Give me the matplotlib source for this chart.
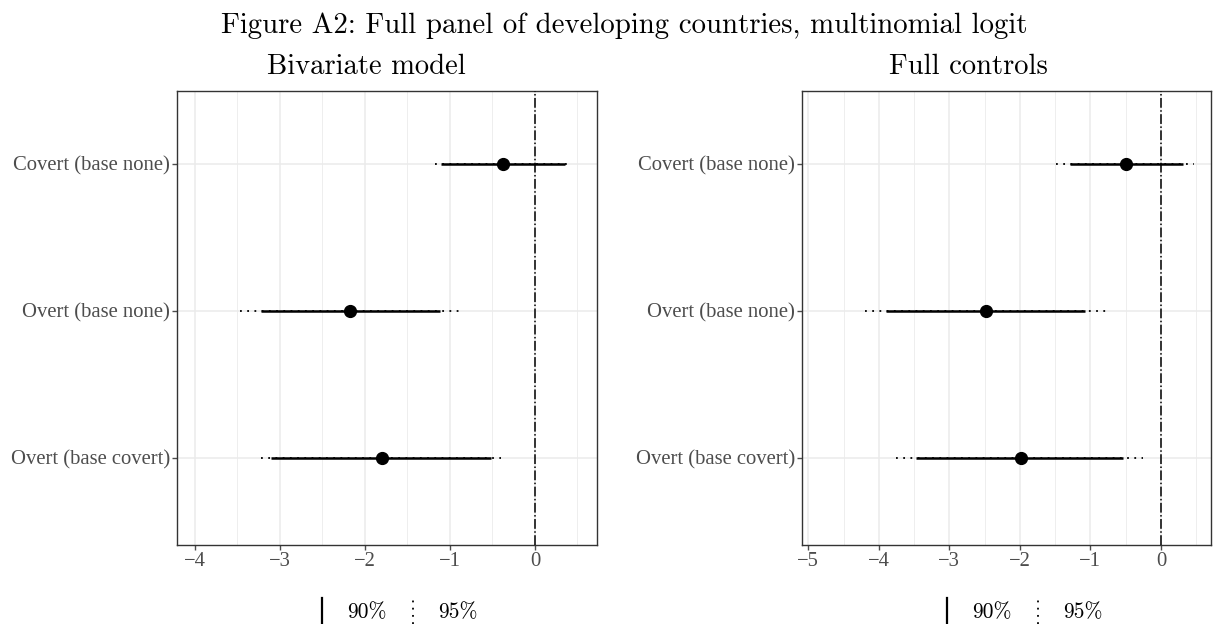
import matplotlib
matplotlib.use("Agg")
import matplotlib.pyplot as plt
from matplotlib.lines import Line2D
from matplotlib.ticker import MultipleLocator

plt.rcParams['font.family'] = ['Liberation Serif', 'DejaVu Serif']

labels = ['Covert (base none)', 'Overt (base none)', 'Overt (base covert)']

# Bivariate model
biv_est = [-0.37, -2.18, -1.80]
biv_lo90 = [-1.10, -3.22, -3.10]
biv_hi90 = [0.35, -1.12, -0.52]
biv_lo95 = [-1.17, -3.47, -3.22]
biv_hi95 = [0.44, -0.87, -0.40]

# Full controls
full_est = [-0.49, -2.48, -1.99]
full_lo90 = [-1.29, -3.90, -3.47]
full_hi90 = [0.31, -1.07, -0.54]
full_lo95 = [-1.49, -4.19, -3.76]
full_hi95 = [0.47, -0.78, -0.26]

panels = [
    ('Bivariate model', biv_est, biv_lo90, biv_hi90, biv_lo95, biv_hi95, (-4.21, 0.73)),
    ('Full controls', full_est, full_lo90, full_hi90, full_lo95, full_hi95, (-5.09, 0.71)),
]

W, H = 1215, 624
fig = plt.figure(figsize=(W / 100, H / 100), dpi=100)
axes_pos = [[177 / W, 1 - 545 / H, 420 / W, 454 / H],
            [802 / W, 1 - 545 / H, 409 / W, 454 / H]]
title_x = [366, 968]

fig.text(624 / W, 1 - 33 / H,
         'Figure A2: Full panel of developing countries, multinomial logit',
         family='cmr10', fontsize=20.8, ha='center', va='baseline')

grey = '#4d4d4d'
for pos, tx, (title, est, lo90, hi90, lo95, hi95, xlim) in zip(axes_pos, title_x, panels):
    ax = fig.add_axes(pos)
    y = [1, 2, 3]
    ax.hlines(y, lo95, hi95, color='black', linestyle=(0, (1, 3)), linewidth=1.3, zorder=2)
    ax.hlines(y, lo90, hi90, color='black', linestyle='-', linewidth=1.8, zorder=3)
    ax.plot(est, y, 'o', color='black', markersize=8.5, zorder=4)
    ax.axvline(0, color='black', linestyle='-.', linewidth=1.1, zorder=3)
    ax.set_xlim(*xlim)
    ax.set_ylim(3.594, 0.505)
    ax.set_yticks(y)
    ax.set_yticklabels(labels)
    ax.xaxis.set_major_locator(MultipleLocator(1))
    ax.xaxis.set_minor_locator(MultipleLocator(0.5))
    ax.grid(True, which='major', color='#ebebeb', linewidth=1.1, zorder=0)
    ax.grid(True, which='minor', axis='x', color='#ebebeb', linewidth=0.6, zorder=0)
    ax.set_axisbelow(True)
    ax.tick_params(axis='both', colors=grey, labelsize=14.9, length=3.5, width=1.0, pad=1.5)
    ax.tick_params(which='minor', length=0)
    for s in ax.spines.values():
        s.set_color('#333333')
        s.set_linewidth(1.0)
    fig.text(tx / W, 1 - 74.5 / H, title, family='cmr10', fontsize=20.6,
             ha='center', va='baseline')

# legends below each panel
for cx in [322, 947]:
    ytop = 1 - 598 / H
    ybot = 0.0
    fig.add_artist(Line2D([cx / W, cx / W], [ybot, ytop], color='black', linewidth=1.6))
    fig.text((cx + 45) / W, 1 - 618 / H, '90%', family='cmr10', fontsize=15.5,
             ha='center', va='baseline')
    fig.add_artist(Line2D([(cx + 91) / W, (cx + 91) / W], [ybot, ytop], color='black',
                          linewidth=1.3, linestyle=(0, (1, 3))))
    fig.text((cx + 136) / W, 1 - 618 / H, '95%', family='cmr10', fontsize=15.5,
             ha='center', va='baseline')

fig.savefig('out.png', dpi=100)
